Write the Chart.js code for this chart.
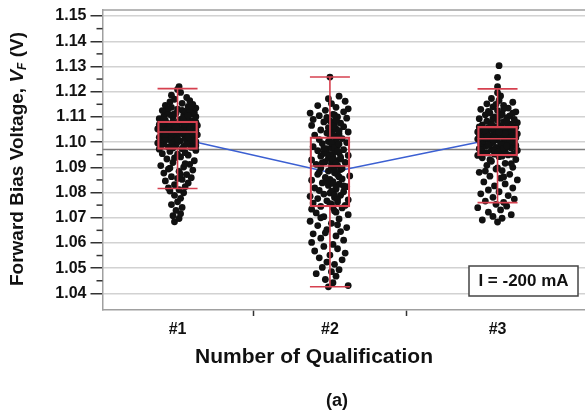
<!DOCTYPE html>
<html>
<head>
<meta charset="utf-8">
<script src="https://cdn.jsdelivr.net/npm/chart.js@4.4.1/dist/chart.umd.min.js"></script>
<style>
  html, body { margin: 0; padding: 0; background: #fff; }
  #wrap { width: 585px; height: 414px; }
</style>
</head>
<body>
<div id="wrap"><canvas id="chart" width="585" height="414"></canvas></div>
<script>
// Categories and where they sit on the x axis
const categories = ['#1', '#2', '#3'];
const categoryX = [1, 2, 3.1];
const separatorTicks = [1.5, 2.5];
const yTicks = [1.04, 1.05, 1.06, 1.07, 1.08, 1.09, 1.10, 1.11, 1.12, 1.13, 1.14, 1.15];

// Box plot statistics
const whiskerLow  = [1.0816, 1.0426, 1.0760];
const quart1      = [1.0971, 1.0743, 1.0945];
const medians     = [1.1040, 1.0905, 1.1013];
const quart3      = [1.1083, 1.1021, 1.1063];
const whiskerHigh = [1.1212, 1.1258, 1.1211];
const means       = [1.1016, 1.0879, 1.1015];
const grandMean   = 1.0971;

// Jittered measurements: [jitter, Vf]
const points1 = [
  [-0.02,1.0684],[0.01,1.0697],[-0.03,1.0708],[0.02,1.0716],[-0.01,1.0729],[0.03,1.0741],[-0.04,1.0752],[0.00,1.0763],[0.02,1.0777],[-0.02,1.0789],[0.04,1.0799],[-0.05,1.0806],[0.01,1.0811],
  [-0.06,1.0818],[0.05,1.0823],[-0.02,1.0831],[0.07,1.0838],[-0.08,1.0846],[0.03,1.0852],[0.09,1.0859],[-0.04,1.0863],[0.06,1.0871],[-0.09,1.0877],[0.01,1.0884],[0.10,1.0889],[-0.06,1.0893],[0.04,1.0901],[-0.11,1.0907],[0.08,1.0912],[-0.03,1.0919],[0.11,1.0926],[-0.07,1.0933],[0.02,1.0941],[0.07,1.0948],[-0.10,1.0954],[0.05,1.0958],[-0.05,1.0963],[0.12,1.0967],
  [-0.12,1.0972],[0.03,1.0974],[0.09,1.0979],[-0.06,1.0981],[0.12,1.0986],[-0.01,1.0988],[-0.09,1.0992],[0.06,1.0994],[0.10,1.0998],[-0.04,1.1001],[-0.11,1.1003],[0.02,1.1005],[0.08,1.1008],[-0.07,1.1010],[0.11,1.1012],[-0.02,1.1014],[0.05,1.1017],[-0.12,1.1019],[-0.05,1.1021],[0.09,1.1023],[0.00,1.1025],[-0.09,1.1027],[0.13,1.1029],[0.04,1.1031],[-0.03,1.1033],[0.07,1.1034],[-0.10,1.1036],[0.01,1.1037],[0.10,1.1038],[-0.06,1.1039],[0.06,1.1026],[-0.08,1.1016],[0.12,1.1002],[-0.13,1.0996],
  [0.03,1.1041],[-0.11,1.1042],[0.09,1.1043],[-0.04,1.1045],[0.12,1.1046],[-0.08,1.1048],[0.01,1.1049],[0.07,1.1051],[-0.13,1.1052],[-0.02,1.1054],[0.11,1.1055],[0.04,1.1057],[-0.07,1.1058],[-0.10,1.1060],[0.08,1.1061],[0.00,1.1063],[-0.05,1.1064],[0.13,1.1066],[0.05,1.1067],[-0.12,1.1069],[-0.01,1.1070],[0.10,1.1072],[-0.06,1.1073],[0.06,1.1075],[-0.09,1.1076],[0.02,1.1078],[0.12,1.1079],[-0.03,1.1080],[-0.11,1.1081],[0.08,1.1082],[-0.07,1.1050],[0.05,1.1062],
  [0.10,1.1085],[-0.08,1.1087],[0.02,1.1090],[-0.12,1.1093],[0.06,1.1095],[-0.03,1.1098],[0.12,1.1101],[-0.09,1.1103],[0.04,1.1106],[-0.05,1.1109],[0.09,1.1111],[-0.01,1.1114],[0.11,1.1117],[-0.07,1.1120],[0.05,1.1122],[-0.10,1.1125],[0.08,1.1128],[0.00,1.1131],[0.12,1.1135],[-0.04,1.1138],[0.07,1.1142],[-0.08,1.1146],[0.10,1.1150],[0.03,1.1154],[-0.05,1.1159],[0.08,1.1164],[-0.02,1.1170],[0.06,1.1177],[-0.04,1.1186],[0.02,1.1197],[0.00,1.1209],[0.01,1.1220],
  [0.00,1.1000],[0.04,1.0983],[-0.03,1.0977],[0.07,1.1020],[-0.08,1.1030],[0.02,1.1044],[-0.05,1.1056],[0.09,1.1065],[-0.02,1.1068],[0.05,1.1071],[-0.10,1.1074],[0.11,1.1077],[0.00,1.1011],[0.03,1.1035],[-0.06,1.1047],[0.08,1.1053],[-0.01,1.1059],[0.06,1.0991],[-0.11,1.0985],[0.10,1.1032],[-0.04,1.1039],[0.01,1.1083],[-0.09,1.1089],[0.04,1.1095],[0.07,1.1105],[-0.02,1.1112],[0.03,1.1126],[-0.06,1.1133],[0.09,1.1144],[0.00,1.0952],[-0.02,1.0937],[0.05,1.0915],[-0.05,1.0897],[0.02,1.0872],[0.00,1.0856]
];

const points2 = [
  [-0.01,1.0426],[0.12,1.0431],[0.02,1.0442],[-0.03,1.0455],[0.04,1.0468],[-0.09,1.0478],[0.01,1.0486],[0.06,1.0494],[-0.05,1.0503],[0.03,1.0515],[-0.02,1.0524],[0.08,1.0533],[-0.07,1.0541],[0.00,1.0552],[0.10,1.0560],[-0.10,1.0568],[0.05,1.0577],[-0.04,1.0586],[0.02,1.0594],[-0.12,1.0602],[0.09,1.0611],[-0.06,1.0619],[0.04,1.0628],[-0.11,1.0636],[0.07,1.0645],[-0.02,1.0653],[0.11,1.0661],[-0.08,1.0669],[0.01,1.0678],[-0.13,1.0686],[0.06,1.0695],[-0.04,1.0704],[0.12,1.0712],[-0.09,1.0719],[0.03,1.0727],[-0.12,1.0734],[0.08,1.0739],
  [-0.06,1.0745],[0.10,1.0749],[0.01,1.0754],[-0.11,1.0758],[0.05,1.0762],[-0.02,1.0767],[0.12,1.0771],[-0.08,1.0776],[0.03,1.0780],[-0.13,1.0785],[0.07,1.0789],[-0.04,1.0794],[0.00,1.0798],[0.09,1.0803],[-0.07,1.0808],[0.04,1.0813],[-0.10,1.0818],[0.11,1.0823],[-0.01,1.0828],[0.06,1.0833],[-0.05,1.0838],[0.02,1.0843],[-0.12,1.0849],[0.08,1.0854],[-0.03,1.0860],[0.13,1.0866],[-0.08,1.0872],[0.03,1.0878],[-0.01,1.0885],[0.07,1.0891],[-0.06,1.0897],[0.02,1.0902],
  [0.05,1.0908],[-0.09,1.0912],[0.01,1.0915],[0.10,1.0919],[-0.03,1.0922],[0.04,1.0926],[-0.12,1.0929],[0.07,1.0933],[-0.01,1.0936],[0.02,1.0940],[-0.06,1.0944],[0.12,1.0947],[0.00,1.0951],[-0.04,1.0955],[0.06,1.0958],[0.03,1.0962],[-0.08,1.0966],[0.09,1.0970],[-0.02,1.0974],[0.01,1.0978],[-0.11,1.0982],[0.05,1.0986],[0.02,1.0990],[-0.05,1.0994],[0.11,1.0998],[-0.01,1.1002],[0.04,1.1006],[-0.07,1.1010],[0.08,1.1014],[0.00,1.1018],[-0.03,1.0960],[0.03,1.0985],
  [0.02,1.1024],[-0.10,1.1028],[0.06,1.1032],[-0.02,1.1036],[0.12,1.1040],[0.01,1.1044],[-0.06,1.1048],[0.04,1.1052],[-0.01,1.1057],[0.09,1.1061],[-0.12,1.1066],[0.03,1.1070],[0.07,1.1075],[-0.04,1.1080],[0.00,1.1085],[-0.11,1.1090],[0.11,1.1095],[0.05,1.1100],[-0.07,1.1105],[0.02,1.1110],[-0.13,1.1115],[0.09,1.1120],[-0.03,1.1126],[0.12,1.1132],[0.04,1.1138],[-0.08,1.1145],[0.01,1.1153],[0.10,1.1162],[-0.01,1.1172],[0.06,1.1182],[0.00,1.1258],
  [0.02,1.1030],[0.04,1.1012],[0.01,1.0996],[0.03,1.0979],[0.05,1.0964],[0.00,1.0947],[0.02,1.0931],[0.04,1.0917],[0.01,1.0901],[0.03,1.0887],[0.05,1.0870],[0.00,1.0852],[0.02,1.0836],[0.04,1.0820],[0.01,1.0805],[0.03,1.0790],[0.05,1.0773],[0.00,1.0756],[0.02,1.0740],[0.04,1.0722],[0.06,1.1045],[0.02,1.1064],[0.04,1.1088],[-0.02,1.1098],[0.03,1.1108],[0.06,1.0992],[-0.04,1.0975],[0.07,1.0940],[-0.05,1.0918],[0.08,1.0895],[-0.07,1.0880],[0.06,1.0862],[-0.02,1.0845],[0.09,1.0826],[-0.06,1.0700],[0.05,1.0672],[-0.03,1.0640]
];

const points3 = [
  [-0.10,1.0691],[0.00,1.0683],[0.03,1.0698],[-0.03,1.0705],[0.09,1.0712],[-0.06,1.0722],[0.02,1.0731],[-0.13,1.0740],[0.06,1.0746],[-0.01,1.0753],
  [0.04,1.0761],[-0.08,1.0766],[0.11,1.0774],[-0.03,1.0781],[0.07,1.0788],[-0.11,1.0795],[0.01,1.0803],[-0.06,1.0810],[0.10,1.0818],[-0.02,1.0826],[0.05,1.0834],[-0.09,1.0842],[0.13,1.0850],[0.02,1.0857],[-0.05,1.0865],[0.08,1.0872],[-0.12,1.0880],[0.03,1.0887],[-0.01,1.0893],[0.10,1.0900],[-0.07,1.0908],[0.05,1.0916],[-0.04,1.0924],[0.12,1.0931],[-0.10,1.0938],[0.01,1.0942],
  [-0.13,1.0947],[0.07,1.0949],[-0.02,1.0952],[0.11,1.0954],[-0.07,1.0957],[0.03,1.0959],[-0.10,1.0962],[0.05,1.0964],[0.13,1.0967],[-0.04,1.0969],[0.01,1.0972],[-0.12,1.0974],[0.09,1.0977],[-0.01,1.0979],[0.06,1.0982],[-0.08,1.0984],[0.12,1.0987],[-0.05,1.0989],[0.02,1.0992],[-0.11,1.0994],[0.08,1.0997],[-0.03,1.0999],[0.04,1.1002],[-0.09,1.1004],[0.10,1.1006],[0.00,1.1008],[-0.06,1.1010],[0.07,1.1011],[-0.13,1.1012],[0.03,1.0990],[-0.02,1.0965],[0.11,1.1000],
  [0.05,1.1014],[-0.08,1.1016],[0.12,1.1017],[-0.01,1.1019],[0.08,1.1020],[-0.12,1.1022],[0.02,1.1024],[-0.05,1.1025],[0.10,1.1027],[-0.03,1.1029],[0.06,1.1030],[-0.10,1.1032],[0.13,1.1033],[0.00,1.1035],[-0.07,1.1037],[0.04,1.1038],[-0.13,1.1040],[0.09,1.1041],[-0.02,1.1043],[0.07,1.1045],[-0.09,1.1046],[0.01,1.1048],[0.11,1.1050],[-0.04,1.1051],[0.05,1.1053],[-0.11,1.1055],[0.03,1.1056],[-0.06,1.1058],[0.12,1.1059],[-0.01,1.1061],[0.08,1.1062],[-0.07,1.1028],
  [0.02,1.1065],[-0.10,1.1068],[0.09,1.1071],[-0.04,1.1074],[0.13,1.1077],[0.04,1.1080],[-0.07,1.1083],[0.00,1.1087],[0.11,1.1090],[-0.12,1.1093],[0.06,1.1097],[-0.02,1.1100],[0.08,1.1104],[-0.08,1.1108],[0.03,1.1112],[-0.05,1.1116],[0.12,1.1120],[0.00,1.1125],[-0.11,1.1130],[0.07,1.1135],[-0.03,1.1140],[0.04,1.1146],[-0.07,1.1152],[0.10,1.1158],[0.01,1.1165],[-0.04,1.1173],[0.02,1.1183],[0.00,1.1196],[0.00,1.1220],[0.00,1.1257],[0.01,1.1303],
  [0.00,1.0960],[0.04,1.0975],[-0.06,1.0988],[0.08,1.1003],[-0.02,1.1018],[0.05,1.1034],[-0.09,1.1044],[0.02,1.1057],[-0.04,1.1070],[0.10,1.0951],[-0.11,1.0970],[0.06,1.0985],[-0.03,1.1009],[0.12,1.1023],[-0.08,1.1049],[0.01,1.1039],[0.07,1.1064],[-0.12,1.1060],[0.03,1.0944],[-0.05,1.0930],[0.09,1.0915],[0.00,1.0898],[-0.08,1.0885],[0.04,1.0862],[0.06,1.1085],[-0.03,1.1094],[0.02,1.1106],[0.10,1.1115],[-0.06,1.1122],[0.04,1.1132],[-0.01,1.1150]
];

const RED = '#d6404f';
const BLUE = '#3b5fd2';
const FONT = '"Liberation Sans", Arial, Helvetica, sans-serif';

function jittered(points, i) {
    return points.map(p => ({ x: categoryX[i] + p[0], y: p[1] }));
}

// whisker stems, split by null so each one is its own segment
const stems = [];
categoryX.forEach((x, i) => {
    stems.push({ x: x, y: quart3[i] }, { x: x, y: whiskerHigh[i] }, { x: x, y: null });
    stems.push({ x: x, y: quart1[i] }, { x: x, y: whiskerLow[i] }, { x: x, y: null });
});

function strokeLine(ctx, x1, y1, x2, y2) {
    ctx.beginPath();
    ctx.moveTo(x1, y1);
    ctx.lineTo(x2, y2);
    ctx.stroke();
}

const decorPlugin = {
    id: 'decor',
    beforeDatasetsDraw(chart) {
        const { ctx, chartArea: a, scales: { y } } = chart;
        // grand mean reference line
        const yr = y.getPixelForValue(grandMean);
        ctx.save();
        ctx.strokeStyle = '#808080';
        ctx.lineWidth = 1.5;
        strokeLine(ctx, a.left, yr, a.right, yr);
        ctx.restore();
    },
    afterDraw(chart) {
        const { ctx, chartArea: a, scales: { y } } = chart;
        ctx.save();

        // top edge of the frame
        ctx.strokeStyle = '#a0a0a0';
        ctx.lineWidth = 1.5;
        strokeLine(ctx, a.left, a.top, a.right, a.top);

        // minor ticks half way between the labelled ones
        ctx.strokeStyle = '#333';
        for (let i = 0; i < yTicks.length - 1; i++) {
            const yp = y.getPixelForValue((yTicks[i] + yTicks[i + 1]) / 2);
            strokeLine(ctx, a.left - 6, yp, a.left, yp);
        }

        ctx.fillStyle = '#111';

        // x title
        ctx.font = 'bold 21px ' + FONT;
        ctx.textAlign = 'center';
        ctx.textBaseline = 'middle';
        ctx.fillText('Number of Qualification', 314, 357);

        // caption
        ctx.font = 'bold 18px ' + FONT;
        ctx.fillText('(a)', 337, 401);

        // y title with italic V and subscript F
        const partA = 'Forward Bias Voltage, ';
        const partB = 'V';
        const partC = 'F';
        const partD = ' (V)';
        const fMain = 'bold 19px ' + FONT;
        const fItal = 'italic bold 19px ' + FONT;
        const fSub = 'italic bold 12px ' + FONT;
        ctx.font = fMain;
        const wA = ctx.measureText(partA).width;
        const wD = ctx.measureText(partD).width;
        ctx.font = fItal;
        const wB = ctx.measureText(partB).width;
        ctx.font = fSub;
        const wC = ctx.measureText(partC).width;
        const total = wA + wB + wC + wD;
        ctx.translate(18, 159);
        ctx.rotate(-Math.PI / 2);
        ctx.textAlign = 'left';
        let cx = -total / 2;
        ctx.font = fMain;
        ctx.fillText(partA, cx, 0);
        cx += wA;
        ctx.font = fItal;
        ctx.fillText(partB, cx, 0);
        cx += wB;
        ctx.font = fSub;
        ctx.fillText(partC, cx, 5);
        cx += wC;
        ctx.font = fMain;
        ctx.fillText(partD, cx, 0);
        ctx.setTransform(1, 0, 0, 1, 0, 0);

        // current label box
        ctx.fillStyle = '#fff';
        ctx.fillRect(469, 266, 109, 30);
        ctx.strokeStyle = '#444';
        ctx.lineWidth = 1.5;
        ctx.strokeRect(469, 266, 109, 30);
        ctx.fillStyle = '#111';
        ctx.font = 'bold 17px ' + FONT;
        ctx.textAlign = 'center';
        ctx.fillText('I = -200 mA', 523.5, 281.5);

        ctx.restore();
    }
};

const ctx = document.getElementById('chart').getContext('2d');

new Chart(ctx, {
    type: 'scatter',
    data: {
        datasets: [
            {
                type: 'line',
                data: categoryX.map((x, i) => ({ x: x, y: means[i] })),
                borderColor: BLUE,
                borderWidth: 1.5,
                pointRadius: 0,
                fill: false,
                tension: 0,
                order: 5
            },
            {
                data: jittered(points1, 0),
                backgroundColor: '#111',
                borderWidth: 0,
                pointRadius: 3.4,
                order: 4
            },
            {
                data: jittered(points2, 1),
                backgroundColor: '#111',
                borderWidth: 0,
                pointRadius: 3.4,
                order: 4
            },
            {
                data: jittered(points3, 2),
                backgroundColor: '#111',
                borderWidth: 0,
                pointRadius: 3.4,
                order: 4
            },
            {
                type: 'line',
                data: stems,
                borderColor: RED,
                borderWidth: 1.6,
                pointRadius: 0,
                spanGaps: false,
                fill: false,
                order: 3
            },
            {
                type: 'bar',
                data: categoryX.map((x, i) => ({ x: x, y: [quart1[i], quart3[i]] })),
                backgroundColor: 'rgba(0,0,0,0)',
                borderColor: RED,
                borderWidth: 1.6,
                borderSkipped: false,
                barThickness: 40,
                grouped: false,
                order: 2
            },
            {
                data: categoryX.map((x, i) => ({ x: x, y: medians[i] }))
                    .concat(categoryX.map((x, i) => ({ x: x, y: whiskerLow[i] })))
                    .concat(categoryX.map((x, i) => ({ x: x, y: whiskerHigh[i] }))),
                pointStyle: 'line',
                pointRadius: 20,
                borderColor: RED,
                pointBorderWidth: 1.6,
                order: 1
            }
        ]
    },
    options: {
        responsive: false,
        animation: false,
        layout: { autoPadding: false, padding: { top: 10, right: 0, bottom: 0, left: 0 } },
        plugins: {
            legend: { display: false },
            tooltip: { enabled: false }
        },
        scales: {
            x: {
                type: 'linear',
                offset: false,
                bounds: 'data',
                min: 0.5075,
                max: 3.674,
                afterFit: (scale) => {
                    scale.height = 104;
                    scale.paddingLeft = 0;
                    scale.paddingRight = 0;
                },
                afterBuildTicks: (scale) => {
                    scale.ticks = categoryX.concat(separatorTicks)
                        .sort((p, q) => p - q)
                        .map(v => ({ value: v }));
                },
                border: { color: '#a0a0a0', width: 1.5 },
                grid: {
                    offset: false,
                    drawOnChartArea: false,
                    tickLength: 6,
                    tickWidth: 1.5,
                    tickColor: (c) => separatorTicks.includes(c.tick && c.tick.value) ? '#333' : 'rgba(0,0,0,0)'
                },
                ticks: {
                    autoSkip: false,
                    maxRotation: 0,
                    padding: 4,
                    color: '#111',
                    font: { family: FONT, size: 16, weight: 'bold' },
                    callback: (v) => {
                        const i = categoryX.indexOf(v);
                        return i >= 0 ? categories[i] : '';
                    }
                }
            },
            y: {
                min: 1.0334,
                max: 1.1524,
                afterFit: (scale) => {
                    scale.width = 102.5;
                    scale.paddingTop = 0;
                    scale.paddingBottom = 0;
                },
                afterBuildTicks: (scale) => {
                    scale.ticks = yTicks.map(v => ({ value: v }));
                },
                border: { color: '#a0a0a0', width: 1.5 },
                grid: {
                    color: '#d2d2d2',
                    lineWidth: 1.5,
                    tickLength: 12,
                    tickWidth: 1.5,
                    tickColor: '#333'
                },
                ticks: {
                    padding: 4,
                    color: '#111',
                    font: { family: FONT, size: 16, weight: 'bold' },
                    callback: (v) => Number(v).toFixed(2)
                }
            }
        }
    },
    plugins: [decorPlugin]
});
</script>
</body>
</html>
